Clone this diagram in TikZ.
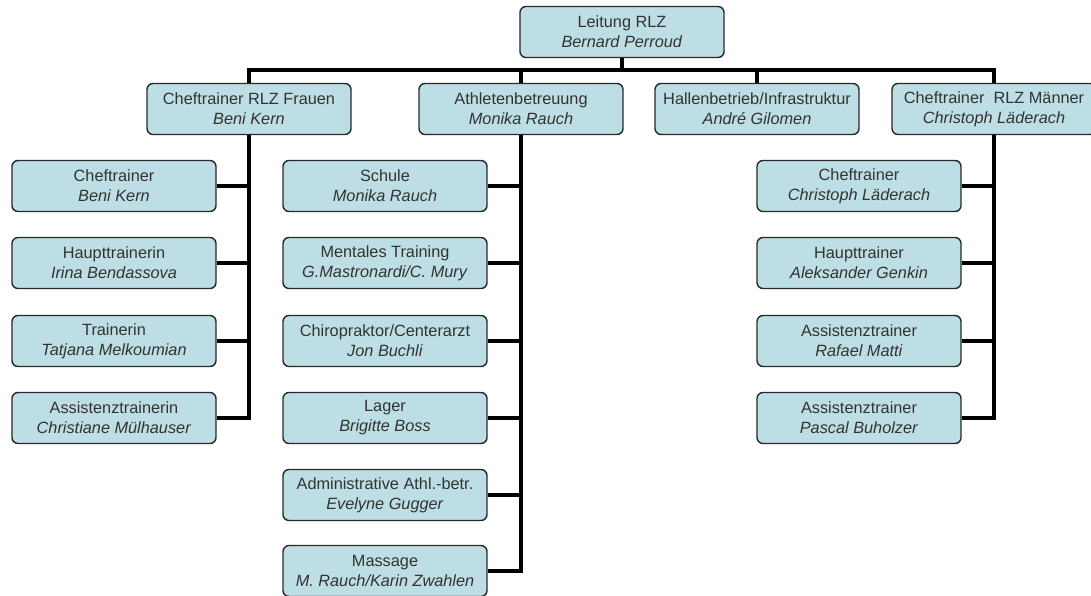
\documentclass[tikz,border=0pt]{standalone}
\usepackage{fontspec}
\setmainfont{Liberation Sans}
\usepackage{tikz}
\usetikzlibrary{positioning}
\definecolor{boxfill}{RGB}{189,222,228}
\definecolor{boxline}{RGB}{40,40,40}

\begin{document}
\begin{tikzpicture}[x=1pt, y=-1pt,
    box/.style = {draw=boxline, line width=1.4pt, rounded corners=6pt, fill=boxfill,
                  minimum width=204pt, minimum height=51pt, inner sep=0pt, align=center,
                  text=black!80, font=\fontsize{16.3}{20}\selectfont},
    link/.style = {line width=3.8pt}]
    \useasboundingbox (0,0) rectangle (1091,596);

    % top
    \node[box] (leitung) at (622,32) {Leitung RLZ\\\textit{Bernard Perroud}};
    \coordinate (bus) at (622,70);

    % second level
    \node[box] (frauen) at (249,109) {Cheftrainer RLZ Frauen\\\textit{Beni Kern}};
    \node[box] (athl) at (521,109) {Athletenbetreuung\\\textit{Monika Rauch}};
    \node[box] (halle) at (757,109) {Hallenbetrieb/Infrastruktur\\\textit{André Gilomen}};
    \node[box] (maenner) at (994,109) {Cheftrainer~ RLZ Männer\\\textit{Christoph Läderach}};

    % Frauen
    \node[box] (fr1) at (114,186) {Cheftrainer\\\textit{Beni Kern}};
    \node[box] (fr2) at (114,263) {Haupttrainerin\\\textit{Irina Bendassova}};
    \node[box] (fr3) at (114,341) {Trainerin\\\textit{Tatjana Melkoumian}};
    \node[box] (fr4) at (114,418) {Assistenztrainerin\\\textit{Christiane Mülhauser}};

    % Athletenbetreuung
    \node[box] (at1) at (385,186) {Schule\\\textit{Monika Rauch}};
    \node[box] (at2) at (385,263) {Mentales Training\\\textit{G.Mastronardi/C. Mury}};
    \node[box] (at3) at (385,341) {Chiropraktor/Centerarzt\\\textit{Jon Buchli}};
    \node[box] (at4) at (385,418) {Lager\\\textit{Brigitte Boss}};
    \node[box] (at5) at (385,495) {Administrative Athl.-betr.\\\textit{Evelyne Gugger}};
    \node[box] (at6) at (385,571) {Massage\\\textit{M. Rauch/Karin Zwahlen}};

    % Maenner
    \node[box] (ma1) at (859,186) {Cheftrainer\\\textit{Christoph Läderach}};
    \node[box] (ma2) at (859,263) {Haupttrainer\\\textit{Aleksander Genkin}};
    \node[box] (ma3) at (859,341) {Assistenztrainer\\\textit{Rafael Matti}};
    \node[box] (ma4) at (859,418) {Assistenztrainer\\\textit{Pascal Buholzer}};

    \draw[link] (leitung) -- (bus);
    \draw[link] (frauen.north) -- (frauen.north |- bus) -- (maenner.north |- bus) -- (maenner.north);
    \draw[link] (athl.north |- bus) -- (athl.north);
    \draw[link] (halle.north |- bus) -- (halle.north);

    \draw[link] (frauen.south) |- (fr4.east);
    \foreach \n in {fr1,fr2,fr3}
        \draw[link] (\n.east) -- (\n.east -| frauen.south);
    \draw[link] (athl.south) |- (at6.east);
    \foreach \n in {at1,at2,at3,at4,at5}
        \draw[link] (\n.east) -- (\n.east -| athl.south);
    \draw[link] (maenner.south) |- (ma4.east);
    \foreach \n in {ma1,ma2,ma3}
        \draw[link] (\n.east) -- (\n.east -| maenner.south);
\end{tikzpicture}
\end{document}
